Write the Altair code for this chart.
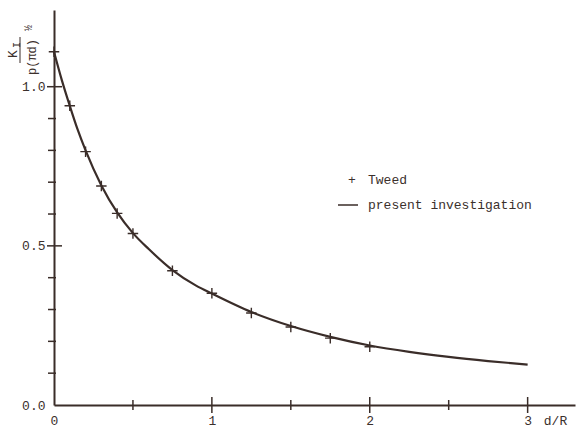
import altair as alt
import pandas as pd

# ---- data ----
curve_x = [0.0, 0.05, 0.1, 0.15, 0.2, 0.3, 0.4, 0.5, 0.6, 0.75, 0.9, 1.0,
           1.25, 1.5, 1.75, 2.0, 2.25, 2.5, 2.75, 3.0]
curve_y = [1.11, 1.02, 0.94, 0.865, 0.80, 0.69, 0.605, 0.54, 0.49, 0.424, 0.375, 0.35,
           0.292, 0.248, 0.214, 0.187, 0.167, 0.151, 0.138, 0.127]

tweed_x = [0.0, 0.1, 0.2, 0.3, 0.4, 0.5, 0.75, 1.0, 1.25, 1.5, 1.75, 2.0]
tweed_y = [1.11, 0.94, 0.796, 0.688, 0.602, 0.539, 0.422, 0.351, 0.289, 0.245, 0.21, 0.183]

x_label_values = [0, 1, 2, 3]
x_major_ticks = [1, 2, 3]
x_minor_ticks = [0.5, 1.5, 2.5]
y_label_values = [0.0, 0.5, 1.0]
y_major_ticks = [0.5, 1.0]
y_minor_ticks = [0.1, 0.2, 0.3, 0.4, 0.6, 0.7, 0.8, 0.9]

legend_labels = ["Tweed", "present investigation"]

# ---- style ----
W, H = 521, 395
INK = "#3a2d29"
TXT = "#3b302c"
FONT = "Liberation Mono"

X_DOMAIN = [0, 3.3]
Y_DOMAIN = [0, 1.241]

xenc = alt.X("x:Q",
             scale=alt.Scale(domain=X_DOMAIN, nice=False, zero=False),
             axis=alt.Axis(values=x_label_values, format="d", ticks=False, grid=False,
                           domain=True, domainColor=INK, domainWidth=2,
                           labelFont=FONT, labelFontSize=13, labelColor=TXT,
                           labelPadding=9, labelFlush=False,
                           title="d/R", titleFont=FONT, titleFontSize=13,
                           titleFontWeight="normal", titleColor=TXT,
                           titleX=501, titleY=9, titleAlign="center",
                           titleBaseline="top", titleAngle=0))
yenc = alt.Y("y:Q",
             scale=alt.Scale(domain=Y_DOMAIN, nice=False, zero=False),
             axis=alt.Axis(values=y_label_values, format=".1f", ticks=False, grid=False,
                           domain=True, domainColor=INK, domainWidth=2,
                           labelFont=FONT, labelFontSize=13, labelColor=TXT,
                           labelPadding=9, labelFlush=False, title=None))

curve_df = pd.DataFrame({"x": curve_x, "y": curve_y})
tweed_df = pd.DataFrame({"x": tweed_x, "y": tweed_y})

curve = alt.Chart(curve_df).mark_line(color=INK, strokeWidth=2.2,
                                      interpolate="monotone").encode(x=xenc, y=yenc)

plus_path = "M-1,0L1,0M0,-1L0,1"
tweed = alt.Chart(tweed_df).mark_point(shape=plus_path, filled=False, color=INK,
                                       strokeWidth=1.4, size=110, opacity=1).encode(x=xenc, y=yenc)

xt_major = alt.Chart(pd.DataFrame({"x": x_major_ticks})).mark_rule(
    color=INK, strokeWidth=1.5).encode(x=xenc, y=alt.value(H - 8), y2=alt.value(H + 8))
xt_minor = alt.Chart(pd.DataFrame({"x": x_minor_ticks})).mark_rule(
    color=INK, strokeWidth=1.5).encode(x=xenc, y=alt.value(H - 5), y2=alt.value(H + 5))
yt_major = alt.Chart(pd.DataFrame({"y": y_major_ticks})).mark_rule(
    color=INK, strokeWidth=1.5).encode(y=yenc, x=alt.value(-7), x2=alt.value(8))
yt_minor = alt.Chart(pd.DataFrame({"y": y_minor_ticks})).mark_rule(
    color=INK, strokeWidth=1.5).encode(y=yenc, x=alt.value(-6), x2=alt.value(2))

# ---- legend (hand-placed, as in the original figure) ----
leg_plus = alt.Chart(pd.DataFrame({"t": ["+"]})).mark_text(
    font=FONT, fontSize=13, color=TXT, align="center", baseline="middle").encode(
    text="t:N", x=alt.value(298), y=alt.value(170))
leg_text1 = alt.Chart(pd.DataFrame({"t": [legend_labels[0]]})).mark_text(
    font=FONT, fontSize=13, color=TXT, align="left", baseline="middle").encode(
    text="t:N", x=alt.value(314), y=alt.value(170))
leg_line = alt.Chart(pd.DataFrame({"t": [0]})).mark_rule(color=INK, strokeWidth=1.5).encode(
    x=alt.value(284), x2=alt.value(304), y=alt.value(195))
leg_text2 = alt.Chart(pd.DataFrame({"t": [legend_labels[1]]})).mark_text(
    font=FONT, fontSize=13, color=TXT, align="left", baseline="middle").encode(
    text="t:N", x=alt.value(314), y=alt.value(195))

# ---- y-axis title: K_I / p(pi d)^1/2, set vertically ----
def vtext(s, x, y, size):
    return alt.Chart(pd.DataFrame({"t": [s]})).mark_text(
        font=FONT, fontSize=size, color=TXT, angle=270, align="center",
        baseline="middle").encode(text="t:N", x=alt.value(x), y=alt.value(y))

yt_K = vtext("K", -41, 44, 13)
yt_I = vtext("I", -37, 35, 10)
yt_bar = alt.Chart(pd.DataFrame({"t": [0]})).mark_rule(color=INK, strokeWidth=1).encode(
    x=alt.value(-34), y=alt.value(27), y2=alt.value(53))
yt_den = vtext("p(\u03c0d)", -22, 47, 12)
yt_half = vtext("\u00bd", -25, 18, 10)

chart = alt.layer(
    curve, tweed, xt_major, xt_minor, yt_major, yt_minor,
    leg_plus, leg_text1, leg_line, leg_text2,
    yt_K, yt_I, yt_bar, yt_den, yt_half
).properties(
    width=W, height=H,
    autosize=alt.AutoSizeParams(type="none"),
    padding={"left": 54, "top": 10, "right": 3, "bottom": 30},
    background="white"
).configure_view(stroke=None)

chart.save("out.html", embed_options={"renderer": "svg", "actions": False})
